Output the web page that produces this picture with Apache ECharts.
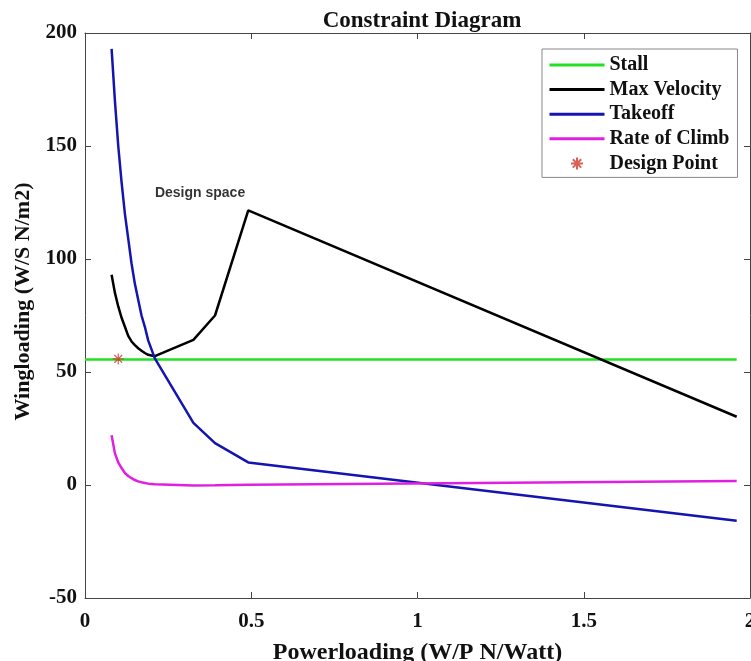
<!DOCTYPE html>
<html>
<head>
<meta charset="utf-8">
<script src="https://cdn.jsdelivr.net/npm/echarts@6/dist/echarts.min.js"></script>
<style>
html,body{margin:0;padding:0;background:#fff;}
#chart{width:751px;height:661px;}
</style>
</head>
<body>
<div id="chart"></div>
<script>
// ---- data ----
const xPower      = [0.08, 0.09, 0.10, 0.11, 0.12, 0.13, 0.14, 0.15, 0.16, 0.17, 0.18, 0.19, 0.21, 0.326, 0.391, 0.491, 1.96];
const maxVelocity = [93, 85, 79, 74, 70, 66, 63.5, 61.9, 60.5, 59.4, 58.4, 57.6, 57, 64.2, 75, 121.5, 30.2];
const takeoff     = [193, 170, 150, 134, 120, 109, 98, 89, 82, 75, 70, 64, 56, 27.5, 18.5, 10, -15.8];
const rateOfClimb = [22, 14, 10, 7.5, 5.3, 4, 3, 2.2, 1.6, 1.2, 0.9, 0.6, 0.3, -0.2, -0.1, 0.1, 1.8];
const stallX      = [0, 1.96];
const stallY      = [55.5, 55.5];
const designX     = [0.1];
const designY     = [55.8];
const annotX      = [0.346];
const annotY      = [129];
const annotText   = ['Design space'];
const seriesNames = ['Stall', 'Max Velocity', 'Takeoff', 'Rate of Climb', 'Design Point'];
const xTicks      = {min: 0, max: 2, interval: 0.5};
const yTicks      = {min: -50, max: 200, interval: 50};

const pairs = (xs, ys) => xs.map((x, i) => [x, ys[i]]);
const serif = '"Liberation Serif", "Times New Roman", serif';
const asterisk = 'path://M5,0L5,10M0,5L10,5M1.5,1.5L8.5,8.5M1.5,8.5L8.5,1.5';

const chart = echarts.init(document.getElementById('chart'), null, {renderer: 'canvas'});
const axisLineStyle = {color: '#444', width: 1};
const tickLabel = {fontFamily: serif, fontWeight: 'bold', fontSize: 21, color: '#111'};
const lineLegend = (name) => ({name: name, itemStyle: {opacity: 0}, lineStyle: {width: 3}});

chart.setOption({
  animation: false,
  backgroundColor: '#fff',
  title: {
    text: 'Constraint Diagram',
    left: 417, top: 5, textAlign: 'center',
    textStyle: {fontFamily: serif, fontWeight: 'bold', fontSize: 23, color: '#111'}
  },
  grid: {left: 85, right: 1, top: 33, bottom: 63, containLabel: false, outerBoundsMode: 'none'},
  legend: {
    data: [lineLegend(seriesNames[0]), lineLegend(seriesNames[1]), lineLegend(seriesNames[2]),
           lineLegend(seriesNames[3]), {name: seriesNames[4]}],
    orient: 'vertical',
    left: 542, top: 49,
    padding: [6, 8, 4, 6],
    itemWidth: 55, itemHeight: 12, itemGap: 4.6,
    backgroundColor: '#fff',
    borderColor: '#888', borderWidth: 1,
    textStyle: {fontFamily: serif, fontWeight: 'bold', fontSize: 20, lineHeight: 20, color: '#111'}
  },
  xAxis: [{
    type: 'value', min: xTicks.min, max: xTicks.max, interval: xTicks.interval,
    name: 'Powerloading (W/P N/Watt)', nameLocation: 'middle', nameGap: 43,
    nameTextStyle: {fontFamily: serif, fontWeight: 'bold', fontSize: 24, color: '#111'},
    axisLine: {show: true, onZero: false, lineStyle: axisLineStyle},
    axisTick: {show: true, inside: true, length: 6, lineStyle: axisLineStyle},
    axisLabel: Object.assign({margin: 13}, tickLabel),
    splitLine: {show: false}
  }, {
    type: 'value', position: 'top', min: xTicks.min, max: xTicks.max, interval: xTicks.interval,
    axisLine: {show: true, onZero: false, lineStyle: axisLineStyle},
    axisTick: {show: true, inside: true, length: 6, lineStyle: axisLineStyle},
    axisLabel: {show: false}, splitLine: {show: false}
  }],
  yAxis: [{
    type: 'value', min: yTicks.min, max: yTicks.max, interval: yTicks.interval,
    name: 'Wingloading (W/S N/m2)', nameLocation: 'middle', nameGap: 47,
    nameTextStyle: {fontFamily: serif, fontWeight: 'bold', fontSize: 22, color: '#111', padding: [0, 0, 0, 28]},
    axisLine: {show: true, onZero: false, lineStyle: axisLineStyle},
    axisTick: {show: true, inside: true, length: 6, lineStyle: axisLineStyle},
    axisLabel: Object.assign({margin: 8}, tickLabel),
    splitLine: {show: false}
  }, {
    type: 'value', position: 'right', min: yTicks.min, max: yTicks.max, interval: yTicks.interval,
    axisLine: {show: true, onZero: false, lineStyle: axisLineStyle},
    axisTick: {show: true, inside: true, length: 6, lineStyle: axisLineStyle},
    axisLabel: {show: false}, splitLine: {show: false}
  }],
  series: [
    {name: seriesNames[0], type: 'line', data: pairs(stallX, stallY), symbol: 'none',
     lineStyle: {color: '#22e022', width: 2.5}, itemStyle: {color: '#22e022'}},
    {name: seriesNames[1], type: 'line', data: pairs(xPower, maxVelocity), symbol: 'none',
     lineStyle: {color: '#000', width: 2.5}, itemStyle: {color: '#000'}},
    {name: seriesNames[2], type: 'line', data: pairs(xPower, takeoff), symbol: 'none',
     lineStyle: {color: '#1414b0', width: 2.5}, itemStyle: {color: '#1414b0'}},
    {name: seriesNames[3], type: 'line', data: pairs(xPower, rateOfClimb), symbol: 'none',
     lineStyle: {color: '#e020e0', width: 2.5}, itemStyle: {color: '#e020e0'}},
    {name: seriesNames[4], type: 'scatter', data: pairs(designX, designY), symbol: asterisk, symbolSize: 11,
     itemStyle: {color: 'rgba(0,0,0,0)', borderColor: '#d03a2a', borderWidth: 1.2}, z: 5},
    {name: 'annotation', type: 'scatter', data: pairs(annotX, annotY), symbolSize: 0,
     label: {show: true, position: 'inside', formatter: (p) => annotText[p.dataIndex],
             fontFamily: '"Liberation Sans", Arial, sans-serif', fontWeight: 'bold', fontSize: 14, color: '#000'},
     tooltip: {show: false}}
  ]
});
</script>
</body>
</html>
